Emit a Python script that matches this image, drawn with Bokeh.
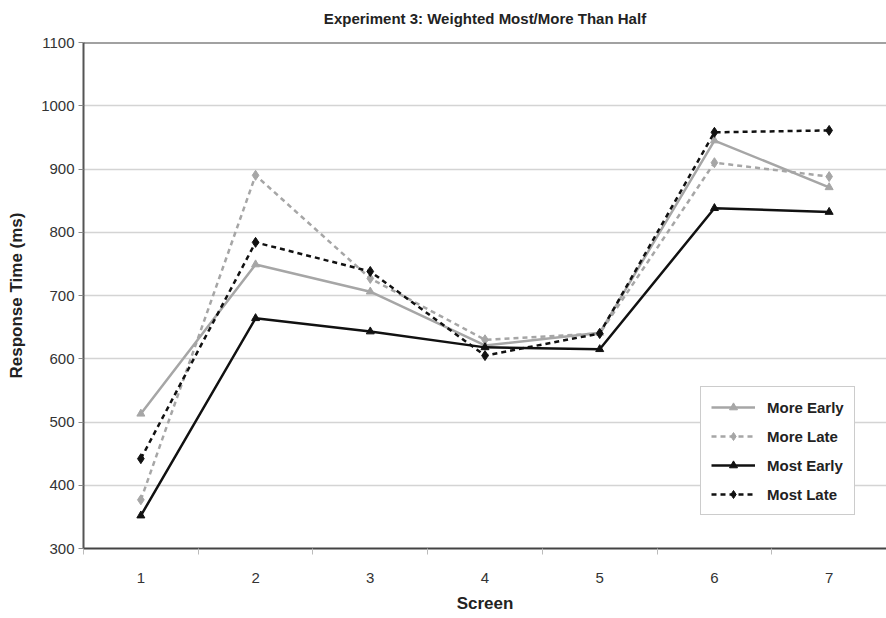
from bokeh.plotting import figure
from bokeh.models import Range1d, FixedTicker, Legend, LegendItem
from bokeh.embed import file_html
from bokeh.resources import INLINE

screens = [1, 2, 3, 4, 5, 6, 7]
screen_labels = ["1", "2", "3", "4", "5", "6", "7"]
more_early = [513, 749, 706, 621, 641, 945, 871]
more_late = [377, 890, 727, 630, 640, 910, 888]
most_early = [352, 664, 643, 618, 615, 838, 832]
most_late = [442, 784, 738, 605, 640, 958, 961]
y_ticks = [300, 400, 500, 600, 700, 800, 900, 1000, 1100]

FONT = "Liberation Sans"
GRAY = "#a6a6a6"
BLACK = "#111111"

p = figure(width=886, height=618, output_backend="svg", toolbar_location=None,
           x_range=Range1d(0.5, 7.5), y_range=Range1d(300, 1100),
           min_border_left=83, min_border_right=0, min_border_top=42, min_border_bottom=70)
p.outline_line_color = None
p.background_fill_color = "white"
p.border_fill_color = "white"

p.title.text = "Experiment 3: Weighted Most/More Than Half\n "
p.title.align = "center"
p.title.text_font = FONT
p.title.text_font_size = "15px"
p.title.text_font_style = "bold"
p.title.text_color = "#222222"
p.title.text_line_height = 0.9
p.title.offset = 0
p.title.standoff = 0

# x axis
p.xaxis.ticker = FixedTicker(ticks=screens, minor_ticks=[0.5, 1.5, 2.5, 3.5, 4.5, 5.5, 6.5, 7.5])
p.xaxis.major_label_overrides = {s: l for s, l in zip(screens, screen_labels)}
p.xaxis.major_tick_line_color = None
p.xaxis.minor_tick_line_color = "#bbbbbb"
p.xaxis.minor_tick_out = 6
p.xaxis.minor_tick_in = 0
p.xaxis.axis_line_color = "#444444"
p.xaxis.axis_line_width = 2
p.xaxis.major_label_text_font = FONT
p.xaxis.major_label_text_font_size = "15px"
p.xaxis.major_label_text_color = "#333333"
p.xaxis.major_label_standoff = 18
p.xaxis.axis_label = "Screen"
p.xaxis.axis_label_text_font = FONT
p.xaxis.axis_label_text_font_size = "17px"
p.xaxis.axis_label_text_font_style = "bold"
p.xaxis.axis_label_text_color = "#222222"
p.xaxis.axis_label_standoff = 8

# y axis
p.yaxis.ticker = FixedTicker(ticks=y_ticks)
p.yaxis.minor_tick_line_color = None
p.yaxis.major_tick_line_color = "#888888"
p.yaxis.major_tick_out = 5
p.yaxis.major_tick_in = 0
p.yaxis.axis_line_color = "#555555"
p.yaxis.axis_line_width = 2
p.yaxis.major_label_text_font = FONT
p.yaxis.major_label_text_font_size = "15px"
p.yaxis.major_label_text_color = "#333333"
p.yaxis.major_label_standoff = 4
p.yaxis.axis_label = "Response Time (ms)"
p.yaxis.axis_label_text_font = FONT
p.yaxis.axis_label_text_font_size = "17px"
p.yaxis.axis_label_text_font_style = "bold"
p.yaxis.axis_label_text_color = "#222222"
p.yaxis.axis_label_standoff = 12

p.xgrid.grid_line_color = None
p.ygrid.grid_line_color = "#d4d4d4"
p.ygrid.grid_line_width = 1.5

# top border line
p.line(x=[0.5, 7.5], y=[1100, 1100], line_color="#444444", line_width=2)

items = []
series = [
    ("More Early", more_early, GRAY, "solid", "triangle", 8),
    ("More Late", more_late, GRAY, "5 4", "diamond", 10),
    ("Most Early", most_early, BLACK, "solid", "triangle", 8),
    ("Most Late", most_late, BLACK, "5 4", "diamond", 10),
]
for name, vals, col, dash, marker, size in series:
    r1 = p.line(x=screens, y=vals, line_color=col, line_width=2.5, line_dash=dash)
    r2 = p.scatter(x=screens, y=vals, marker=marker, size=size, fill_color=col, line_color=col)
    items.append(LegendItem(label=name, renderers=[r1, r2]))

legend = Legend(items=items, location=(617, 33))
legend.label_text_font = FONT
legend.label_text_font_size = "15px"
legend.label_text_font_style = "bold"
legend.label_text_color = "#222222"
legend.border_line_color = "#999999"
legend.border_line_width = 1.5
legend.background_fill_color = "white"
legend.background_fill_alpha = 1
legend.glyph_width = 44
legend.spacing = 9
legend.padding = 10
legend.label_standoff = 12
p.add_layout(legend, "center")

open("out.html", "w").write(file_html(p, INLINE))
